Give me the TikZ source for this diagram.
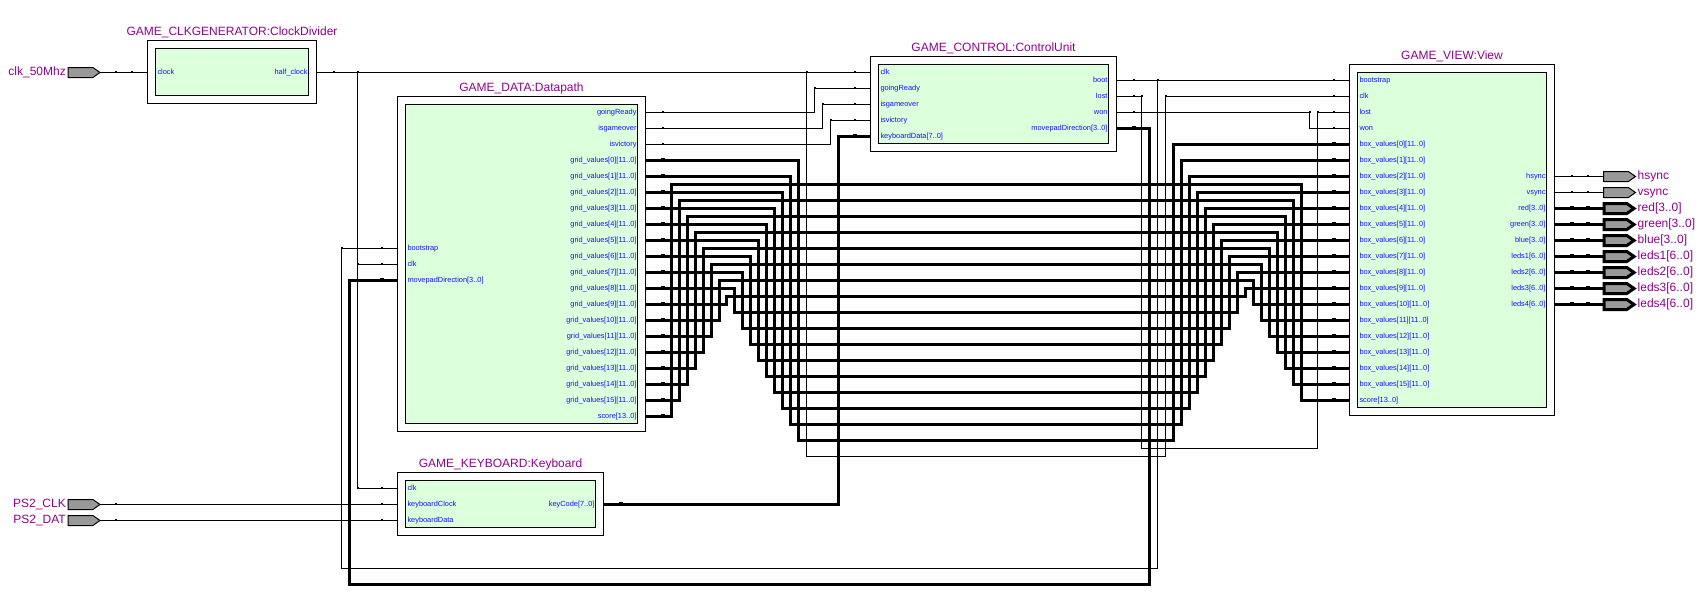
\documentclass[tikz,border=0pt]{standalone}
\usepackage{xcolor}
\usepackage{fontspec}
\setmainfont{Liberation Sans}
\usetikzlibrary{positioning,shapes.symbols}
\definecolor{blockgreen}{HTML}{DCFFDC}
\definecolor{titlepurple}{HTML}{900090}
\definecolor{portblue}{HTML}{1010FF}
\definecolor{pingray}{HTML}{999999}
\newcommand{\gameblock}[6]{
  \node[blockouter, minimum width=#4pt, minimum height=#5pt] (#1) at (#2,#3) {};
  \node[blockinner, minimum width={(#4-16)*1pt}, minimum height={(#5-16)*1pt}] (#1_in) at (#2,#3) {};
  \node[blocktitle, above=2pt of #1.north] (#1_title) {#6};
}
\newcommand{\wiretick}[2]{\fill (#1-1,#2-1.5) rectangle (#1+1,#2);}
\newcommand{\bustick}[2]{\fill (#1-2,#2-2.5) rectangle (#1+2,#2);}

\begin{document}
\begin{tikzpicture}[
  x=1pt, y=-1pt,
  blockouter/.style={draw, fill=white, line width=1pt, inner sep=0pt, outer sep=0pt},
  blockinner/.style={draw, fill=blockgreen, line width=1pt, inner sep=0pt, outer sep=0pt},
  blocktitle/.style={text=titlepurple, font=\fontsize{12}{14}\selectfont, inner sep=0pt, text height=9pt, text depth=2.5pt},
  portl/.style={text=portblue, font=\fontsize{7.4}{9}\selectfont, inner sep=0pt, outer sep=0pt, text height=5.5pt, text depth=1.5pt, anchor=west},
  portr/.style={portl, anchor=east},
  wire/.style={line width=1pt, line join=miter},
  buswire/.style={line width=3pt, line join=miter},
  iopin/.style={shape=signal, signal to=east, signal from=nowhere, signal pointer angle=70, draw, fill=pingray, line width=1pt, minimum width=32pt, minimum height=10pt, inner sep=0pt, outer sep=0pt, anchor=west},
  iobus/.style={iopin, line width=3pt, minimum width=30pt},
  pinlbl/.style={text=titlepurple, font=\fontsize{12}{14}\selectfont, inner sep=0pt, text height=9pt, text depth=2.5pt}]
  \useasboundingbox (-0.5,-0.5) rectangle (1707.5,599.5);

  \gameblock{cd}{231.5}{71.5}{169}{63}{GAME\_CLKGENERATOR:ClockDivider}
  \gameblock{dp}{521}{263.5}{248}{335}{GAME\_DATA:Datapath}
  \gameblock{cu}{993}{103.5}{246}{95}{GAME\_CONTROL:ControlUnit}
  \gameblock{vw}{1451.5}{239.5}{205}{351}{GAME\_VIEW:View}
  \gameblock{kb}{500}{503.5}{206}{63}{GAME\_KEYBOARD:Keyboard}

  \node[portl] (cd_clock) at (157,72) {clock};
  \node[portr] (cd_half) at (307,72) {half\_clock};

  \node[portl] (dp_boot) at (407,248) {bootstrap};
  \node[portl] (dp_clk) at (407,264) {clk};
  \node[portl] (dp_move) at (407,280) {movepadDirection[3..0]};
  \node[portr] (dp_ready) at (636,112) {goingReady};
  \node[portr] (dp_over) at (636,128) {isgameover};
  \node[portr] (dp_vict) at (636,144) {isvictory};
  \foreach \i [evaluate=\i as \yy using int(160+16*\i)] in {0,...,15}
    \node[portr] (dp_g\i) at (636,\yy) {grid\_values[\i][11..0]};
  \node[portr] (dp_g16) at (636,416) {score[13..0]};

  \node[portl] (cu_clk) at (880,72) {clk};
  \node[portl] (cu_ready) at (880,88) {goingReady};
  \node[portl] (cu_over) at (880,104) {isgameover};
  \node[portl] (cu_vict) at (880,120) {isvictory};
  \node[portl] (cu_key) at (880,136) {keyboardData[7..0]};
  \node[portr] (cu_boot) at (1107,80) {boot};
  \node[portr] (cu_lost) at (1107,96) {lost};
  \node[portr] (cu_won) at (1107,112) {won};
  \node[portr] (cu_move) at (1107,128) {movepadDirection[3..0]};

  \node[portl] (vw_boot) at (1359,80) {bootstrap};
  \node[portl] (vw_clk) at (1359,96) {clk};
  \node[portl] (vw_lost) at (1359,112) {lost};
  \node[portl] (vw_won) at (1359,128) {won};
  \foreach \i [evaluate=\i as \yy using int(144+16*\i)] in {0,...,15}
    \node[portl] (vw_b\i) at (1359,\yy) {box\_values[\i][11..0]};
  \node[portl] (vw_b16) at (1359,400) {score[13..0]};
  \node[portr] (vw_hsync) at (1545,176) {hsync};
  \node[portr] (vw_vsync) at (1545,192) {vsync};
  \node[portr] (vw_red) at (1545,208) {red[3..0]};
  \node[portr] (vw_green) at (1545,224) {green[3..0]};
  \node[portr] (vw_blue) at (1545,240) {blue[3..0]};
  \node[portr] (vw_leds1) at (1545,256) {leds1[6..0]};
  \node[portr] (vw_leds2) at (1545,272) {leds2[6..0]};
  \node[portr] (vw_leds3) at (1545,288) {leds3[6..0]};
  \node[portr] (vw_leds4) at (1545,304) {leds4[6..0]};

  \node[portl] (kb_clk) at (407,488) {clk};
  \node[portl] (kb_ck) at (407,504) {keyboardClock};
  \node[portl] (kb_dat) at (407,520) {keyboardData};
  \node[portr] (kb_code) at (594,504) {keyCode[7..0]};

  \node[iopin] (pin_clk) at (67.5,72) {};
  \node[pinlbl, left=2pt of pin_clk.west] (lbl_clk) {clk\_50Mhz};
  \node[iopin] (pin_ps2c) at (67.5,504) {};
  \node[pinlbl, left=2pt of pin_ps2c.west] (lbl_ps2c) {PS2\_CLK};
  \node[iopin] (pin_ps2d) at (67.5,520) {};
  \node[pinlbl, left=2pt of pin_ps2d.west] (lbl_ps2d) {PS2\_DAT};
  \node[iopin] (pin_hsync) at (1603,176) {};
  \node[pinlbl, anchor=west] (lbl_hsync) at (1637,176) {hsync};
  \node[iopin] (pin_vsync) at (1603,192) {};
  \node[pinlbl, anchor=west] (lbl_vsync) at (1637,192) {vsync};
  \foreach \nm/\yy/\txt in {red/208/red[3..0], green/224/green[3..0], blue/240/blue[3..0], leds1/256/leds1[6..0], leds2/272/leds2[6..0], leds3/288/leds3[6..0], leds4/304/leds4[6..0]}{
    \node[iobus] (pin_\nm) at (1603.5,\yy) {};
    \node[pinlbl, anchor=west] (lbl_\nm) at (1637,\yy) {\txt};
    \draw[buswire] (vw_\nm -| vw.east) -- (pin_\nm.west);
  }

  \coordinate (clk_j) at (357,72);
  \coordinate (clk_k) at (806,72);
  \draw[wire] (pin_clk.east) -- (cd_clock -| cd.west);
  \draw[wire] (cd_half -| cd.east) -- (cu_clk -| cu.west);
  \draw[wire] (clk_j) |- (kb_clk -| kb.west);
  \draw[wire] (clk_j |- dp_clk) -- (dp_clk -| dp.west);
  \draw[wire] (clk_k) -- (806,456) -- (1165,456) |- (vw_clk -| vw.west);
  \draw[wire] (dp_ready -| dp.east) -| (814,88) -- (cu_ready -| cu.west);
  \draw[wire] (dp_over -| dp.east) -| (822,104) -- (cu_over -| cu.west);
  \draw[wire] (dp_vict -| dp.east) -| (830,120) -- (cu_vict -| cu.west);
  \draw[wire] (cu_boot -| cu.east) -- (vw_boot -| vw.west);
  \draw[wire] (1157,80) -- (1157,568) -| (341,248) -- (dp_boot -| dp.west);
  \draw[wire] (cu_lost -| cu.east) -| (1141,448) -| (1317,112) -- (vw_lost -| vw.west);
  \draw[wire] (cu_won -| cu.east) -| (1309,128) -- (vw_won -| vw.west);
  \draw[wire] (pin_ps2c.east) -- (kb_ck -| kb.west);
  \draw[wire] (pin_ps2d.east) -- (kb_dat -| kb.west);
  \draw[wire] (vw_hsync -| vw.east) -- (pin_hsync.west);
  \draw[wire] (vw_vsync -| vw.east) -- (pin_vsync.west);

  \draw[buswire] (cu_move -| cu.east) -| (1149,584) -| (349,280) -- (dp_move -| dp.west);
  \draw[buswire] (kb_code -| kb.east) -| (838,136) -- (cu_key -| cu.west);
  \foreach \i in {0,...,9}{
    \pgfmathsetmacro{\xa}{798-8*\i}
    \pgfmathsetmacro{\ya}{440-16*\i}
    \pgfmathsetmacro{\xb}{1173+8*\i}
    \draw[buswire] (dp_g\i -| dp.east) -| (\xa,\ya) -| (vw_b\i -| \xb,0) -- (vw_b\i -| vw.west);
  }
  \foreach \i in {10,...,16}{
    \pgfmathsetmacro{\xa}{719-8*(\i-10)}
    \pgfmathsetmacro{\ya}{280-16*(\i-10)}
    \pgfmathsetmacro{\xb}{1253+8*(\i-10)}
    \draw[buswire] (dp_g\i -| dp.east) -| (\xa,\ya) -| (vw_b\i -| \xb,0) -- (vw_b\i -| vw.west);
  }

  \foreach \x/\y in {115/72, 131/72, 333/72, 357/72, 806/72, 854/72, 854/88, 854/104, 854/120, 662/112, 662/128, 662/144, 814/88, 822/104, 830/120, 1133/80, 1133/96, 1133/112, 1157/80, 1141/96, 1165/96, 1309/112, 1317/112, 1333/80, 1333/96, 1333/112, 1333/128, 1571/176, 1587/176, 1571/192, 1587/192, 341/248, 357/264, 381/248, 381/264, 357/488, 381/488, 381/504, 381/520, 115/504, 115/520}{
    \wiretick{\x}{\y}
  }
  \foreach \i [evaluate=\i as \yy using int(160+16*\i), evaluate=\i as \yb using int(144+16*\i)] in {0,...,16}{
    \bustick{662}{\yy}
    \bustick{1333}{\yb}
  }
  \foreach \x/\y in {381/280, 854/136, 1133/128, 620/504, 1571/208, 1587/208, 1571/224, 1587/224, 1571/240, 1587/240, 1571/256, 1587/256, 1571/272, 1587/272, 1571/288, 1587/288, 1571/304, 1587/304}{
    \bustick{\x}{\y}
  }
\end{tikzpicture}
\end{document}
